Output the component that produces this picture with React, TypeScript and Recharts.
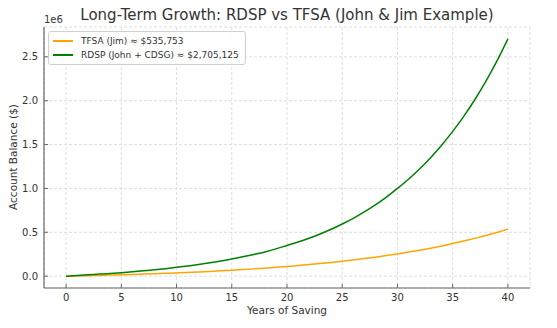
import React from "react";
import { LineChart, Line, XAxis, YAxis, CartesianGrid } from "recharts";

const years: number[] = Array.from({ length: 41 }, (_, i) => i);

// TFSA (Jim) balance, dollars
const tfsa: number[] = [
  0, 2700, 5600, 8600, 11900, 15400, 19200, 23200, 27500, 32100,
  37100, 42300, 48000, 54000, 60500, 67400, 74800, 82800, 91200, 100300,
  110000, 120400, 131500, 143400, 156100, 169700, 184300, 199900, 216600, 234400,
  253500, 273900, 295800, 319200, 344200, 371000, 399600, 430300, 463100, 498200,
  535753,
];

// RDSP (John + CDSG) balance, dollars
const rdsp: number[] = [
  0, 7000, 15000, 23000, 31000, 40000, 50000, 61000, 72000, 85000,
  100000, 116000, 133000, 152000, 172000, 195000, 220000, 247000, 276000, 311000,
  350000, 389000, 432000, 481000, 534000, 594000, 659000, 732000, 812000, 901000,
  1000000, 1105000, 1221000, 1350000, 1492000, 1650000, 1822000, 2011000, 2220000, 2451000,
  2705125,
];

const xTicks: number[] = [0, 5, 10, 15, 20, 25, 30, 35, 40];
const yTicks: number[] = [0, 500000, 1000000, 1500000, 2000000, 2500000];

const seriesNames = {
  tfsa: "TFSA (Jim) ≈ $535,753",
  rdsp: "RDSP (John + CDSG) ≈ $2,705,125",
};

const data = years.map((y, i) => ({ year: y, tfsa: tfsa[i], rdsp: rdsp[i] }));

const FONT = "'DejaVu Sans', Verdana, sans-serif";
const TXT = "#333";
const AX = "#666";
const yMax = 2705125;

const LegendBox = () => (
  <div
    style={{
      position: "absolute",
      left: 48,
      top: 31,
      background: "rgba(255,255,255,0.85)",
      border: "1px solid #d0d0d0",
      borderRadius: 3,
      padding: "2px 6px 2px 4px",
      fontFamily: FONT,
      fontSize: 9,
      color: TXT,
      lineHeight: "14px",
    }}
  >
    {[
      { c: "#FFA500", t: seriesNames.tfsa },
      { c: "#008000", t: seriesNames.rdsp },
    ].map((e) => (
      <div key={e.t} style={{ display: "flex", alignItems: "center" }}>
        <span
          style={{
            display: "inline-block",
            width: 20,
            height: 2,
            background: e.c,
            marginRight: 8,
          }}
        />
        <span>{e.t}</span>
      </div>
    ))}
  </div>
);

export default function App() {
  return (
    <div
      style={{
        position: "absolute",
        left: 0,
        top: 0,
        width: 557,
        height: 328,
        background: "#fff",
        fontFamily: FONT,
      }}
    >
      <LineChart
        width={557}
        height={328}
        data={data}
        margin={{ top: 27, right: 27, bottom: 0, left: 0 }}
      >
        <CartesianGrid stroke="#dedede" strokeDasharray="3 2" />
        <XAxis
          dataKey="year"
          type="number"
          domain={[-2, 42]}
          ticks={xTicks}
          height={40}
          tickSize={-4}
          tickMargin={10}
          tick={{ fontSize: 10, fill: TXT, fontFamily: FONT }}
          axisLine={{ stroke: AX, strokeWidth: 1.2 }}
          tickLine={{ stroke: AX }}
          allowDataOverflow
        />
        <YAxis
          type="number"
          domain={[-0.05 * yMax, 1.05 * yMax]}
          ticks={yTicks}
          width={44}
          tickSize={-4}
          tickMargin={10}
          tickFormatter={(v: number) => (v / 1e6).toFixed(1)}
          tick={{ fontSize: 10, fill: TXT, fontFamily: FONT }}
          axisLine={{ stroke: AX, strokeWidth: 1.2 }}
          tickLine={{ stroke: AX }}
          allowDataOverflow
        />
        <Line
          type="monotone"
          dataKey="tfsa"
          stroke="#FFA500"
          strokeWidth={1.5}
          dot={false}
          isAnimationActive={false}
        />
        <Line
          type="monotone"
          dataKey="rdsp"
          stroke="#008000"
          strokeWidth={1.5}
          dot={false}
          isAnimationActive={false}
        />
      </LineChart>
      <LegendBox />
      <div
        style={{
          position: "absolute",
          left: 0,
          width: 574,
          top: 6,
          textAlign: "center",
          fontSize: 15,
          color: TXT,
          whiteSpace: "nowrap",
        }}
      >
        Long-Term Growth: RDSP vs TFSA (John &amp; Jim Example)
      </div>
      <div style={{ position: "absolute", left: 44, top: 14, fontSize: 10, color: TXT }}>1e6</div>
      <div
        style={{
          position: "absolute",
          left: 44,
          width: 486,
          top: 304,
          textAlign: "center",
          fontSize: 10.5,
          color: TXT,
        }}
      >
        Years of Saving
      </div>
      <div
        style={{
          position: "absolute",
          left: 13,
          top: 157,
          transform: "translate(-50%, -50%) rotate(-90deg)",
          fontSize: 10.5,
          color: TXT,
          whiteSpace: "nowrap",
        }}
      >
        Account Balance ($)
      </div>
    </div>
  );
}
